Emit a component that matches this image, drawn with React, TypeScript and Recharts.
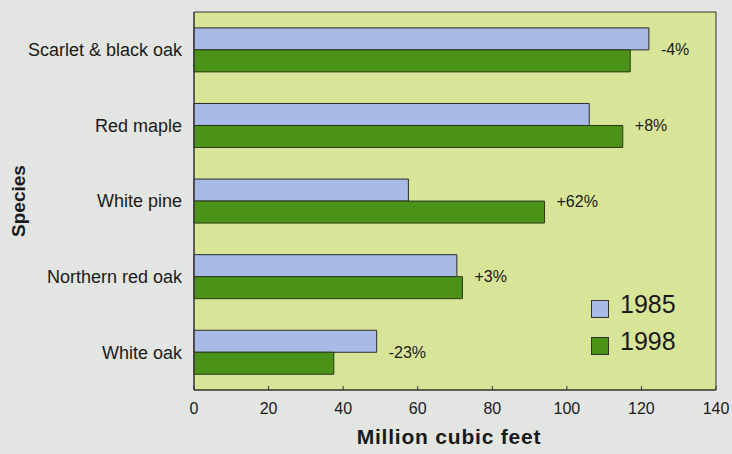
import { BarChart, Bar, XAxis, YAxis, Legend, LabelList, ReferenceArea } from 'recharts'

const species = ['Scarlet & black oak', 'Red maple', 'White pine', 'Northern red oak', 'White oak']
const vol1985 = [122, 106, 57.5, 70.5, 49]
const vol1998 = [117, 115, 94, 72, 37.5]
const changes = ['-4%', '+8%', '+62%', '+3%', '-23%']
const xTicks = [0, 20, 40, 60, 80, 100, 120, 140]
const bandEdges = [0, 1, 2, 3, 4, 5]

const rows = species.map((name, i) => ({
  name,
  v1985: vol1985[i],
  v1998: vol1998[i],
  change: changes[i],
}))

const font = '"Liberation Sans", Arial, sans-serif'
const ink = '#1a1a1a'

// percent label sits just past the longer of the two bars
function ChangeLabel(props: any) {
  const { x, y, width, index } = props
  const row = rows[index]
  if (!row) return null
  const end = x + (width * Math.max(row.v1985, row.v1998)) / row.v1998
  return (
    <text x={end + 12} y={y} dy="0.35em" fontSize={16} fill={ink} fontFamily={font}>
      {row.change}
    </text>
  )
}

function YearLegend({ payload }: any) {
  return (
    <div style={{ fontFamily: font, color: ink }}>
      {(payload || []).map((e: any) => (
        <div key={e.value} style={{ display: 'flex', alignItems: 'center', height: 37 }}>
          <span
            style={{
              width: 18,
              height: 18,
              background: e.color,
              border: '1px solid #333',
              marginRight: 11,
              marginTop: 8,
              boxSizing: 'border-box',
            }}
          />
          <span style={{ fontSize: 25, lineHeight: '25px' }}>{e.value}</span>
        </div>
      ))}
    </div>
  )
}

function SpeciesTitle({ viewBox }: any) {
  const cx = viewBox.x + 18
  const cy = viewBox.y + viewBox.height / 2
  return (
    <text
      x={cx}
      y={cy}
      dy="0.35em"
      transform={`rotate(-90, ${cx}, ${cy})`}
      textAnchor="middle"
      fontSize={19}
      fontWeight="bold"
      fill={ink}
      fontFamily={font}
    >
      Species
    </text>
  )
}

export default function App() {
  return (
    <div style={{ position: 'fixed', left: 0, top: 0, width: 732, height: 454, background: '#e3e5e2' }}>
      <BarChart
        width={732}
        height={454}
        data={rows}
        layout="vertical"
        margin={{ top: 12, right: 16, bottom: 0, left: 0 }}
        barCategoryGap="21%"
        barGap={0}
        style={{ fontFamily: font }}
      >
        <ReferenceArea x1={0} x2={140} fill="#d8e598" fillOpacity={1} stroke="#333" strokeWidth={1} />
        <XAxis
          type="number"
          domain={[0, 140]}
          ticks={xTicks}
          interval={0}
          height={64}
          tickSize={-4}
          tickMargin={17}
          stroke="#333"
          tick={{ fontSize: 16, fill: ink }}
          label={{
            value: 'Million cubic feet',
            position: 'insideBottom',
            offset: 10,
            dx: -6,
            fontSize: 21,
            fontWeight: 'bold',
            fill: ink,
            letterSpacing: 0.8,
          }}
        />
        <YAxis
          yAxisId="edge"
          type="number"
          domain={[0, 5]}
          ticks={bandEdges}
          interval={0}
          width={0}
          tick={false}
          axisLine={false}
          tickSize={4}
          stroke="#333"
        />
        <YAxis
          type="category"
          dataKey="name"
          width={194}
          tickLine={false}
          tickSize={4}
          tickMargin={8}
          stroke="#333"
          tick={{ fontSize: 18, fill: ink }}
          label={<SpeciesTitle />}
        />
        <Legend
          layout="vertical"
          align="center"
          verticalAlign="middle"
          content={<YearLegend />}
          wrapperStyle={{ position: 'absolute', left: 591, top: 286, width: 'auto' }}
        />
        <Bar dataKey="v1985" name="1985" fill="#a7bbe6" stroke="#2b2b2b" strokeWidth={1} isAnimationActive={false} />
        <Bar dataKey="v1998" name="1998" fill="#4b9318" stroke="#2b3a1a" strokeWidth={1} isAnimationActive={false}>
          <LabelList dataKey="change" content={<ChangeLabel />} />
        </Bar>
      </BarChart>
    </div>
  )
}
